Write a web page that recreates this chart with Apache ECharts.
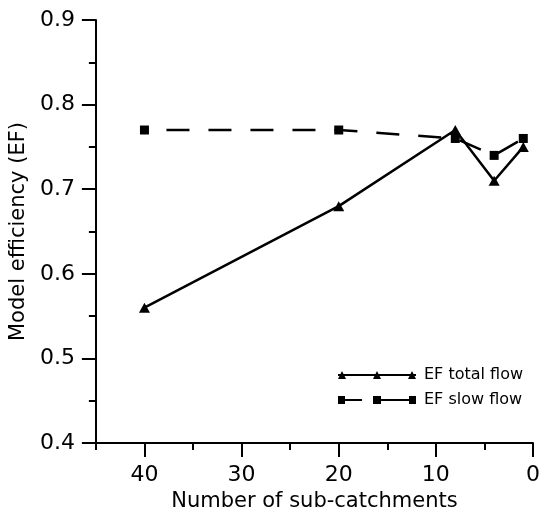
<!DOCTYPE html>
<html>
<head>
<meta charset="utf-8">
<title>Model efficiency</title>
<script src="https://cdn.jsdelivr.net/npm/echarts@6/dist/echarts.min.js"></script>
<style>
html, body { margin: 0; padding: 0; background: #fff; }
#chart { width: 543px; height: 517px; }
</style>
</head>
<body>
<div id="chart"></div>
<script>
// data
var subCatchments = [40, 20, 8, 4, 1];
var efTotalFlow = [0.56, 0.68, 0.77, 0.71, 0.75];
var efSlowFlow = [0.77, 0.77, 0.76, 0.74, 0.76];
var xMajorTicks = [0, 10, 20, 30, 40];
var xMinorTicks = [5, 15, 25, 35, 45];
var seriesNames = ['EF total flow', 'EF slow flow'];

var FONT = '"DejaVu Sans", sans-serif';
var INK = '#000';

function pairs(xs, ys){ var ls = []; for(var i=0; i<xs.length; i++){ ls.push([xs[i], ys[i]]); } return ls; }

// legend samples: line with a marker at both ends and in the middle (78 x 8 box)
var totalIcon = 'path://M0 8L4 0L8 8Z M35 8L39 0L43 8Z M70 8L74 0L78 8Z M0 3L78 3L78 5L0 5Z';
var slowIcon = 'path://M0 0L7 0L7 8L0 8Z M35 0L43 0L43 8L35 8Z M71 0L78 0L78 8L71 8Z' +
	' M7 3L24 3L24 5L7 5Z M43 3L71 3L71 5L43 5Z';

var chart = echarts.init(document.getElementById('chart'));

var option = {
	animation: false,
	backgroundColor: '#fff',
	textStyle: { fontFamily: FONT, color: INK },
	grid: { left: 94, right: 7, top: 20, bottom: 65 },
	legend: {
		orient: 'vertical', left: 338, top: 365, padding: 0,
		itemWidth: 78, itemHeight: 8, itemGap: 5,
		selectedMode: false,
		itemStyle: { borderWidth: 0 },
		textStyle: { fontFamily: FONT, fontSize: 16, color: INK, lineHeight: 20, padding: [0, 0, 0, 3] },
		data: [ { name: seriesNames[0], icon: totalIcon }, { name: seriesNames[1], icon: slowIcon } ]
	},
	xAxis: [
		{
			type: 'value', inverse: true, min: 0, max: 45, position: 'bottom',
			name: 'Number of sub-catchments', nameLocation: 'middle', nameGap: 44,
			nameTextStyle: { fontFamily: FONT, fontSize: 21, color: INK },
			axisLine: { onZero: false, lineStyle: { color: INK, width: 2 } },
			axisTick: { length: 14, customValues: xMajorTicks, lineStyle: { color: INK, width: 2 } },
			axisLabel: { customValues: xMajorTicks, margin: 21, fontSize: 22, color: INK, fontFamily: FONT },
			splitLine: { show: false }
		},
		{
			type: 'value', inverse: true, min: 0, max: 45, position: 'bottom',
			axisLine: { show: false, onZero: false },
			axisTick: { length: 7, customValues: xMinorTicks, lineStyle: { color: INK, width: 2 } },
			axisLabel: { show: false },
			splitLine: { show: false }
		}
	],
	yAxis: {
		type: 'value', min: 0.4, max: 0.9, interval: 0.1, position: 'left',
		name: 'Model efficiency (EF)', nameLocation: 'middle', nameGap: 58,
		nameTextStyle: { fontFamily: FONT, fontSize: 21, color: INK },
		axisLine: { show: true, onZero: false, lineStyle: { color: INK, width: 2 } },
		axisTick: { show: true, length: 14, lineStyle: { color: INK, width: 2 } },
		minorTick: { show: true, splitNumber: 2, length: 7, lineStyle: { color: INK, width: 2 } },
		axisLabel: { margin: 21, fontSize: 22, color: INK, fontFamily: FONT,
			formatter: function(v){ return v.toFixed(1); } },
		splitLine: { show: false }
	},
	series: [
		{
			name: seriesNames[1], type: 'line', xAxisIndex: 0,
			data: pairs(subCatchments, efSlowFlow),
			symbol: 'rect', symbolSize: 9,
			itemStyle: { color: INK },
			lineStyle: { color: INK, width: 2.5, type: [23, 19], dashOffset: 20 }
		},
		{
			name: seriesNames[0], type: 'line', xAxisIndex: 0,
			data: pairs(subCatchments, efTotalFlow),
			symbol: 'triangle', symbolSize: [11, 10],
			itemStyle: { color: INK },
			lineStyle: { color: INK, width: 2.5 }
		}
	]
};

chart.setOption(option);
</script>
</body>
</html>
